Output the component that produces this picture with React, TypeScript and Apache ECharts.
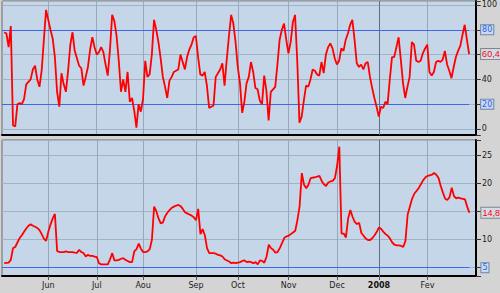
import React, { useEffect, useRef } from "react";
import * as echarts from "echarts";

// Trading-day axis: month start positions (trading-day index) and their labels
const monthLabels = ["Jun", "Jul", "Aou", "Sep", "Oct", "Nov", "Dec", "2008", "Fev"];
const monthStartDay = [21, 43, 64, 88, 107, 130, 152, 171, 193];
const yearMarkDay = 171;
const dayCount = 216;
const firstDay = 1;

// Upper panel: oscillator (0-100)
const oscValues = [
  78, 77, 66, 83, 3, 2, 20, 21, 20, 24,
  36, 38, 40, 48, 51, 40, 34, 47, 72, 96,
  88, 80, 73, 58, 30, 18, 45, 36, 30, 47,
  68, 78, 63, 57, 51, 49, 35, 42, 50, 64,
  74, 66, 60, 62, 66, 62, 52, 43, 64, 92,
  87, 75, 55, 30, 40, 30, 46, 22, 25, 15,
  1, 20, 14, 24, 55, 42, 44, 60, 88, 80,
  70, 57, 42, 34, 25, 39, 42, 46, 47, 48,
  60, 54, 48, 58, 64, 68, 74, 75, 58, 44,
  43, 46, 35, 17, 18, 19, 42, 45, 48, 53,
  35, 56, 75, 92, 85, 70, 50, 37, 13, 22,
  37, 42, 54, 46, 33, 32, 23, 20, 43, 31,
  7, 30, 32, 34, 52, 72, 80, 85, 72, 61,
  70, 86, 92, 55, 5, 10, 23, 35, 34, 40,
  48, 47, 44, 43, 54, 45, 60, 66, 69, 65,
  57, 52, 55, 65, 63, 72, 77, 84, 88, 72,
  53, 50, 52, 48, 53, 54, 42, 33, 25, 18,
  10, 18, 17, 22, 20, 40, 58, 58, 66, 74,
  56, 37, 25, 34, 42, 70, 68, 55, 54, 55,
  61, 65, 68, 46, 43, 46, 54, 55, 54, 56,
  63, 52, 47, 41, 50, 58, 63, 67, 76, 84,
  72, 60.43,
];

// Lower panel: volatility
const volValues = [
  5.8, 5.85, 5.9, 6.4, 8.5, 8.7, 9.5, 10.3, 10.8, 11.4,
  12.0, 12.5, 12.75, 12.5, 12.3, 12.1, 11.7, 11.0, 10.2, 9.8,
  11.4, 12.7, 13.8, 14.6, 8.0, 7.8, 7.8, 7.8, 7.9, 7.8,
  7.8, 7.8, 7.7, 7.65, 8.2, 7.8, 7.6, 7.0, 7.3, 7.1,
  7.1, 7.0, 6.9, 5.8, 5.6, 5.6, 5.6, 5.6, 6.5, 7.6,
  6.3, 6.3, 6.4, 6.6, 6.7, 6.4, 6.2, 6.0, 6.0, 7.9,
  8.3, 9.3, 8.4, 7.8, 7.8, 7.9, 8.3, 10.0, 15.9, 15.1,
  13.8, 12.9, 13.1, 14.2, 14.8, 15.3, 15.7, 15.9, 16.1, 16.2,
  16.0, 15.5, 14.9, 14.7, 14.5, 14.3, 14.0, 13.5, 15.5, 11.0,
  11.9, 10.8, 8.5, 7.6, 7.6, 7.6, 7.5, 7.3, 7.2, 7.0,
  6.5, 6.3, 6.1, 5.8, 5.9, 5.8, 5.9, 6.0, 6.2, 6.3,
  6.0, 6.1, 6.0, 5.8, 6.0, 5.6, 6.3, 6.2, 5.9, 7.0,
  9.1, 8.5, 8.2, 7.7, 7.8, 8.5, 9.4, 10.3, 10.6, 10.7,
  11.0, 11.3, 11.6, 13.5, 16.0, 21.9, 19.8, 19.2, 19.8, 21.0,
  21.1, 21.15, 21.25, 21.4, 20.5, 19.9, 19.6, 20.2, 20.4, 20.5,
  21.0, 23.2, 26.6, 11.1, 11.1, 10.4, 13.8, 15.3, 14.1, 13.2,
  12.8, 13.0, 11.2, 10.7, 10.2, 9.95, 9.95, 10.3, 10.8, 11.4,
  12.2, 11.9, 11.4, 11.0, 10.7, 10.2, 9.5, 9.1, 9.0, 9.0,
  8.9, 8.7, 9.8, 14.5, 15.9, 17.3, 18.2, 18.7, 19.2, 19.9,
  20.6, 21.1, 21.4, 21.5, 21.6, 21.9, 21.6, 21.0, 19.6, 18.4,
  17.3, 17.1, 17.6, 19.3, 17.8, 17.4, 17.5, 17.4, 17.3, 17.2,
  15.9, 14.81,
];

const oscBands = [80, 20];
const volBands = [5];
const oscTickLabels = [0, 40, 100];
const volTickLabels = [10, 20, 25];

const FONT = "DejaVu Sans";
const NARROW_FONT = "Liberation Sans";
const RED = "#ff0000";
const BLUE = "#3f66ee";
const PLOT_BG = "#c5d6e9";
const PAGE_BG = "#d4d4d4";

export default function App() {
  const ref = useRef<HTMLDivElement>(null);

  useEffect(() => {
    const chart = echarts.init(ref.current!, null, { renderer: "svg" });
    const days = Array.from({ length: dayCount }, (_, i) => String(i));
    const lastDay = firstDay + oscValues.length - 1;
    const pad = (vals: number[]) => {
      const arr: (number | string)[] = [];
      for (let i = 0; i < firstDay; i++) arr.push("-");
      return arr.concat(vals);
    };
    const isMonth = (i: number) => monthStartDay.includes(i);
    const fmtComma = (v: number) => String(v).replace(".", ",");

    const boxLabel = (
      text: string,
      color: string,
      border: string,
      bg: string,
      fontFamily: string,
      fontSize: number
    ) => ({
      show: true,
      position: "end",
      distance: 12,
      formatter: text,
      color,
      opacity: 1,
      backgroundColor: bg,
      borderColor: border,
      borderWidth: 1,
      padding: [1, 1, 0, 1],
      fontFamily,
      fontSize,
    });

    const bandLine = (v: number) => [
      {
        coord: [0, v],
        lineStyle: { color: BLUE, width: 1, type: "solid" },
        label: boxLabel(String(v), "#2f5fe8", "#6f86a8", "#c9daf0", FONT, 8),
      },
      { coord: [lastDay, v] },
    ];
    const valueLine = (v: number) => [
      {
        coord: [0, v],
        lineStyle: { color: "rgba(0,0,0,0)", width: 0 },
        label: boxLabel(fmtComma(v), "#ff0000", "#7d8794", "#d3dce8", NARROW_FONT, 9),
      },
      { coord: [lastDay, v] },
    ];
    const yearLine = {
      xAxis: yearMarkDay,
      lineStyle: { color: "#5c6f86", width: 1, type: "solid" },
      label: { show: false },
    };

    const xAxisFor = (gridIndex: number, showLabels: boolean) => ({
      type: "category",
      gridIndex,
      data: days,
      boundaryGap: false,
      axisLine: { show: true, onZero: false, lineStyle: { color: "#000", width: 2 } },
      axisTick: {
        show: showLabels,
        interval: (i: number) => isMonth(i),
        length: 4,
        lineStyle: { color: "#555" },
      },
      axisLabel: {
        show: showLabels,
        interval: (i: number) => isMonth(i),
        formatter: (val: string) => {
          const k = monthStartDay.indexOf(Number(val));
          if (k < 0) return "";
          const lab = monthLabels[k];
          return /^\d+$/.test(lab) ? `{b|${lab}}` : lab;
        },
        margin: 5,
        fontFamily: FONT,
        fontSize: 8,
        color: "#222",
        rich: { b: { fontFamily: FONT, fontSize: 8, fontWeight: "bold", color: "#111" } },
      },
      splitLine: {
        show: true,
        interval: (i: number) => isMonth(i),
        lineStyle: { color: "#97a8bc", width: 1 },
      },
    });

    const yAxisFor = (gridIndex: number, min: number, max: number, shown: number[]) => ({
      type: "value",
      gridIndex,
      position: "right",
      min,
      max,
      splitNumber: 5,
      axisLine: { show: true, lineStyle: { color: "#000", width: 2 } },
      axisTick: { show: true, length: 5, lineStyle: { color: "#333" } },
      axisLabel: {
        margin: 6,
        formatter: (v: number) => (shown.includes(Math.round(v * 1000) / 1000) ? String(v) : ""),
        fontFamily: FONT,
        fontSize: 8,
        color: "#222",
      },
      splitLine: { show: true, lineStyle: { color: "#a3b3c6", width: 1 } },
    });

    const gridBase = {
      show: true,
      left: 2,
      right: 24,
      backgroundColor: PLOT_BG,
      borderColor: "#6a6a6a",
      borderWidth: 1,
    };

    chart.setOption({
      animation: false,
      backgroundColor: PAGE_BG,
      grid: [
        { ...gridBase, top: 1, height: 134 },
        { ...gridBase, top: 140, height: 136 },
      ],
      xAxis: [xAxisFor(0, false), xAxisFor(1, true)],
      yAxis: [
        yAxisFor(0, -4.84, 103.2, oscTickLabels),
        yAxisFor(1, 3.52, 27.8, volTickLabels),
      ],
      series: [
        {
          type: "line",
          xAxisIndex: 0,
          yAxisIndex: 0,
          data: pad(oscValues),
          symbol: "none",
          showSymbol: false,
          z: 3,
          silent: true,
          lineStyle: { color: RED, width: 1.8 },
          itemStyle: { color: RED },
          markLine: {
            silent: true,
            z: 1,
            symbol: ["none", "none"],
            data: [
              ...oscBands.map(bandLine),
              valueLine(oscValues[oscValues.length - 1]),
              yearLine,
            ],
          },
        },
        {
          type: "line",
          xAxisIndex: 1,
          yAxisIndex: 1,
          data: pad(volValues),
          symbol: "none",
          showSymbol: false,
          z: 3,
          silent: true,
          lineStyle: { color: RED, width: 1.8 },
          itemStyle: { color: RED },
          markLine: {
            silent: true,
            z: 1,
            symbol: ["none", "none"],
            data: [
              ...volBands.map(bandLine),
              valueLine(volValues[volValues.length - 1]),
              yearLine,
            ],
          },
        },
      ],
    });

    return () => chart.dispose();
  }, []);

  return (
    <div
      ref={ref}
      style={{ position: "fixed", left: 0, top: 0, width: 500, height: 293 }}
    />
  );
}
